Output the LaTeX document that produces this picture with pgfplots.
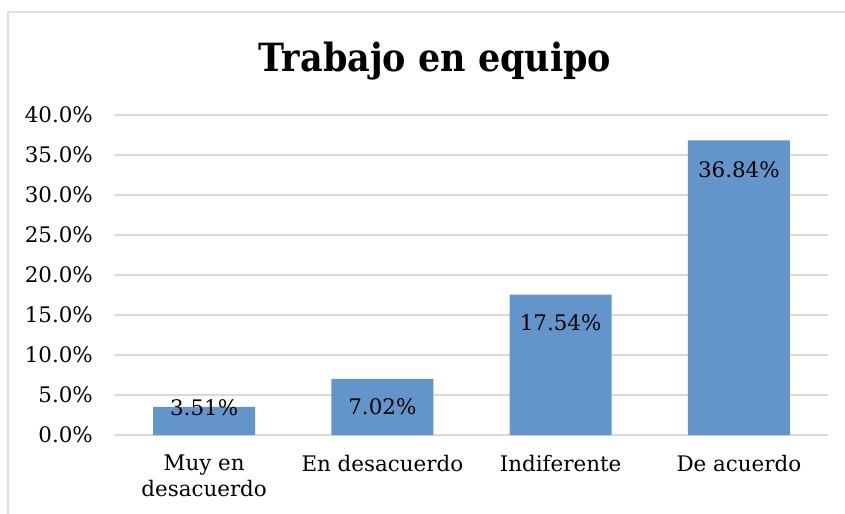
\documentclass[border=0pt]{standalone}
\usepackage{pgfplots}
\pgfplotsset{compat=1.18}
\usepackage{fontspec}
\setmainfont{DejaVu Serif}
\newfontfamily\titlefont{DejaVu Serif Condensed}
\definecolor{barblue}{RGB}{99,148,202}
\definecolor{gridgray}{RGB}{217,217,217}
\definecolor{framegray}{RGB}{222,222,222}
\begin{document}
\begin{tikzpicture}[x=1bp,y=1bp]
\useasboundingbox (0,0) rectangle (845,-514);
\fill[white] (0,0) rectangle (845,-514);
\draw[framegray, line width=1.5bp] (8,-514) -- (8,-12) -- (845,-12);
\node[anchor=base, font=\titlefont\fontsize{39}{42}\selectfont\bfseries] at (435,-72) {Trabajo en equipo};
\begin{axis}[
  at={(115bp,-435bp)}, anchor=south west,
  scale only axis, width=713bp, height=320bp,
  xmin=-0.5, xmax=3.5, ymin=0, ymax=40,
  axis line style={draw=none},
  axis x line*=bottom,
  ytick={0,5,...,40},
  yticklabels={0.0\%,5.0\%,10.0\%,15.0\%,20.0\%,25.0\%,30.0\%,35.0\%,40.0\%},
  xtick={0,1,2,3},
  xticklabels={Muy en\\desacuerdo, En desacuerdo, Indiferente, De acuerdo},
  major tick length=0pt,
  ymajorgrids, grid style={gridgray, line width=1.5bp},
  yticklabel style={font=\fontsize{21.5}{26}\selectfont, anchor=east, inner sep=0pt, xshift=-22bp},
  xticklabel style={font=\fontsize{21.5}{26}\selectfont, anchor=north, align=center, inner sep=0pt, yshift=-20bp},
  clip=false,
]
\draw[gridgray, line width=1.5bp] (axis cs:-0.5,0) -- (axis cs:3.5,0);
\addplot[ybar, fill=barblue, draw=none, bar width=102bp,
  nodes near coords, point meta=explicit symbolic,
  visualization depends on={value \thisrow{off} \as \off},
  every node near coord/.append style={anchor=center, yshift=\off bp, font=\fontsize{21.5}{26}\selectfont, text=black}]
  table[x=x, y=y, meta=lab] {
x y lab off
0 3.51 3.51\% -1
1 7.02 7.02\% -28
2 17.54 17.54\% -28
3 36.84 36.84\% -29
};
\end{axis}
\end{tikzpicture}
\end{document}
